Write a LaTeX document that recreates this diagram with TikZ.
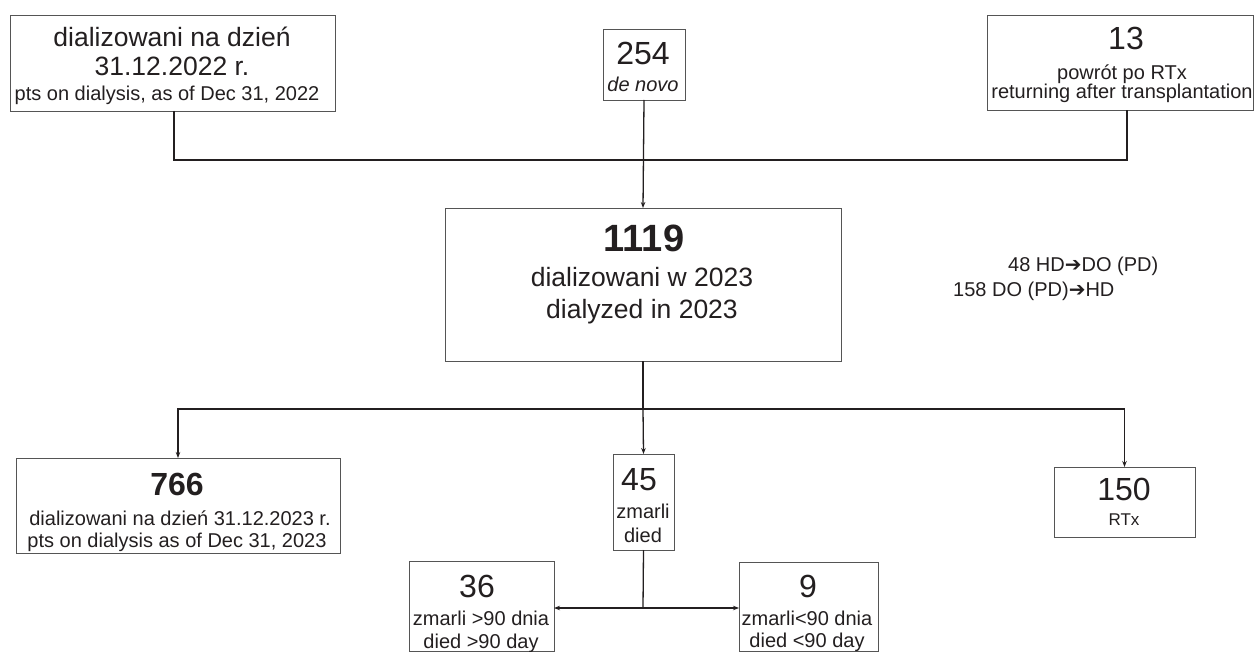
\documentclass[tikz,border=0pt]{standalone}
\usepackage{fontspec}
\setmainfont{Liberation Sans}
\newfontfamily\dvfont{DejaVu Sans}
\usetikzlibrary{arrows.meta}
\definecolor{ink}{HTML}{231F20}
\definecolor{boxgray}{HTML}{555555}
\tikzset{
  box/.style={draw=boxgray, line width=0.9pt, inner sep=0pt, outer sep=0pt},
  conn/.style={draw=ink, line width=1.3pt},
  arr/.style={conn, -{Stealth[length=6pt,width=4.5pt]}},
  tsmall/.style={font=\fontsize{20}{24}\selectfont, anchor=base, inner sep=0pt, text=ink},
  tbig/.style={font=\fontsize{26.5}{30}\selectfont, anchor=base, inner sep=0pt, text=ink},
  tnum/.style={font=\fontsize{32}{36}\selectfont, anchor=base, inner sep=0pt, text=ink},
  tbold/.style={font=\fontsize{32}{36}\selectfont\bfseries, anchor=base, inner sep=0pt, text=ink},
}
\begin{document}
\begin{tikzpicture}[x=1pt,y=1pt]
\useasboundingbox[fill=white] (0,0) rectangle (1255,-652);

% boxes
\node[box, minimum width=325, minimum height=96] (a) at (172.5,-63) {};
\node[box, minimum width=82, minimum height=71] (b) at (644,-64.5) {};
\node[box, minimum width=266, minimum height=95] (c) at (1120,-62.5) {};
\node[box, minimum width=396, minimum height=153] (m) at (643,-284.5) {};
\node[box, minimum width=324, minimum height=95] (d) at (178,-505.5) {};
\node[box, minimum width=61, minimum height=96] (e) at (643.5,-502) {};
\node[box, minimum width=141, minimum height=70] (f) at (1124.5,-502) {};
\node[box, minimum width=145, minimum height=90] (g) at (481.5,-606) {};
\node[box, minimum width=139, minimum height=89] (h) at (808.5,-606.5) {};

% texts
\node[tbig] (a1) at (172,-47) {dializowani na dzień};
\node[tbig] (a2) at (172,-76) {31.12.2022 r.};
\node[tsmall] (a3) at (167,-101) {pts on dialysis, as of Dec 31, 2022};

\node[tnum] (b1) at (643,-65) {254};
\node[tsmall, font=\fontsize{20}{24}\selectfont\itshape] (b2) at (643,-92) {de novo};

\node[tnum] (c1) at (1126,-50) {13};
\node[tsmall] (c2) at (1122,-80) {powrót po RTx};
\node[tsmall] (c3) at (1122,-99) {returning after transplantation};

\node[tbold, font=\fontsize{38}{42}\selectfont\bfseries] (m1) at (644,-252) {1119};
\node[tbig] (m2) at (642,-287) {dializowani w 2023};
\node[tbig] (m3) at (642,-318) {dialyzed in 2023};

\node[tsmall, anchor=base west] (t1) at (1008,-272) {48 HD{\dvfont ➔}DO (PD)};
\node[tsmall, anchor=base west] (t2) at (953,-297) {158 DO (PD){\dvfont ➔}HD};

\node[tbold] (d1) at (177,-495) {766};
\node[tsmall] (d2) at (180,-525) {dializowani na dzień 31.12.2023 r.};
\node[tsmall] (d3) at (177,-547) {pts on dialysis as of Dec 31, 2023};

\node[tnum] (e1) at (639,-490) {45};
\node[tsmall] (e2) at (643,-518) {zmarli};
\node[tsmall] (e3) at (643,-542) {died};

\node[tnum] (f1) at (1124,-500) {150};
\node[tsmall, font=\fontsize{17}{20}\selectfont] (f2) at (1124,-525) {RTx};

\node[tnum] (g1) at (477,-597) {36};
\node[tsmall] (g2) at (481,-625) {zmarli >90 dnia};
\node[tsmall] (g3) at (481,-648) {died >90 day};

\node[tnum] (h1) at (808,-597) {9};
\node[tsmall] (h2) at (807,-625) {zmarli<90 dnia};
\node[tsmall] (h3) at (807,-647) {died <90 day};

% top connectors
\coordinate (j1) at (643,-160);
\draw[conn] ([xshift=1.5pt]a.south) |- (j1) -| ([xshift=7pt]c.south);
\draw[arr] (b.south) -- (m.north);

% bottom connectors
\coordinate (j2) at (643,-409);
\draw[conn] (m.south) -- (j2);
\draw[arr] (j2) -| (d.north);
\draw[arr] (j2) -| (f.north);
\draw[arr] (j2) -- (e.north);

\coordinate (j3) at (643,-608);
\draw[conn] (e.south) -- (j3);
\draw[arr] (j3) -- (g.east |- j3);
\draw[arr] (j3) -- (h.west |- j3);
\end{tikzpicture}
\end{document}
